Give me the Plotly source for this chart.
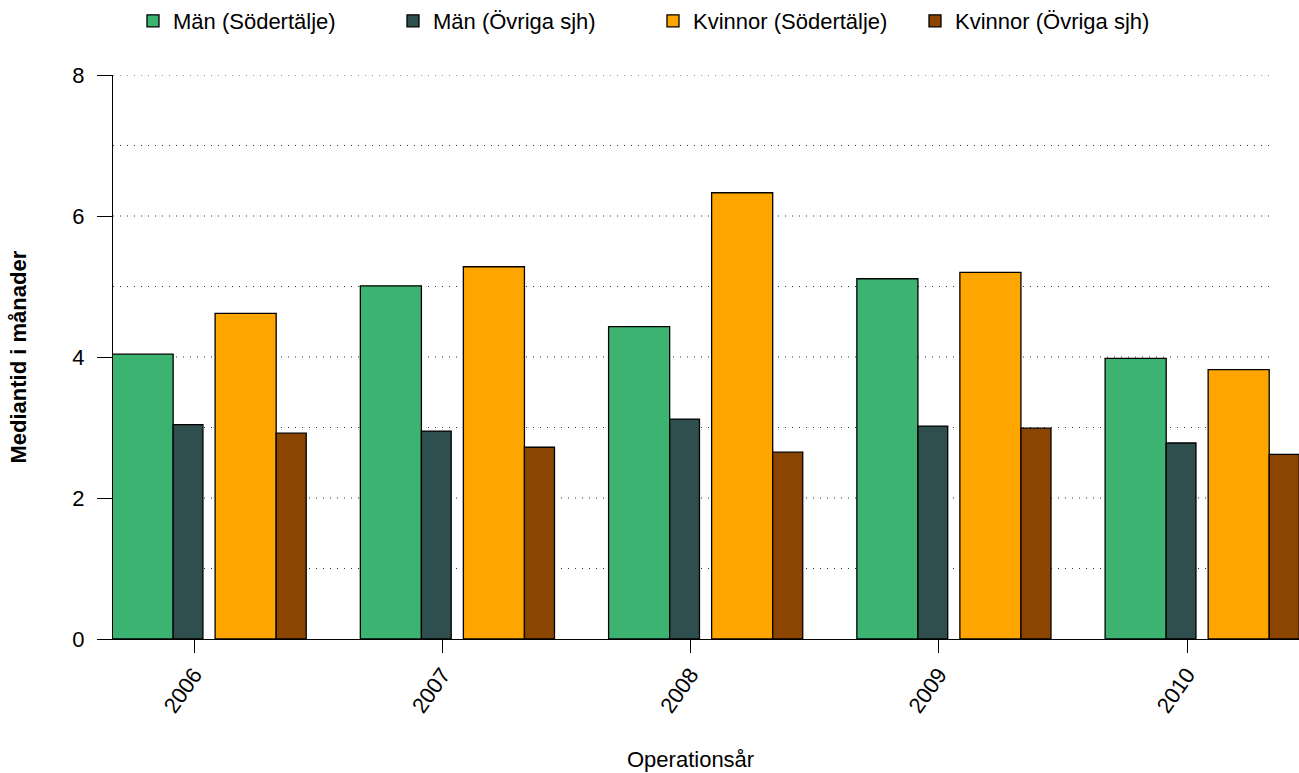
import plotly.graph_objects as go

years = ["2006", "2007", "2008", "2009", "2010"]
man_sodertalje = [4.04, 5.01, 4.43, 5.11, 3.98]
man_ovriga = [3.04, 2.95, 3.12, 3.02, 2.78]
kvinnor_sodertalje = [4.62, 5.28, 6.33, 5.20, 3.82]
kvinnor_ovriga = [2.92, 2.72, 2.65, 2.99, 2.62]

series = [
    ("Män (Södertälje)", man_sodertalje, "#3CB371", -0.330, 0.246, "legend"),
    ("Män (Övriga sjh)", man_ovriga, "#2F4F4F", -0.084, 0.120, "legend2"),
    ("Kvinnor (Södertälje)", kvinnor_sodertalje, "#FFA500", 0.085, 0.246, "legend3"),
    ("Kvinnor (Övriga sjh)", kvinnor_ovriga, "#8B4500", 0.331, 0.121, "legend4"),
]

FONT = "Liberation Sans, Arial, sans-serif"
FS = 22

fig = go.Figure()
for name, vals, color, off, w, lg in series:
    fig.add_trace(go.Bar(
        x=years, y=vals, name=name,
        offset=off, width=w,
        marker=dict(color=color, line=dict(color="black", width=1.3)),
        legend=lg,
    ))

W, H = 1299, 773
ML, MR, MT, MB = 113, 0, 74, 134
PW = W - ML - MR
PH = H - MT - MB

def px2paper_x(px):
    return (px - ML) / PW

def px2paper_y(py):
    return (H - MB - py) / PH

legend_common = dict(orientation="h", yanchor="middle", xanchor="left",
                     bgcolor="rgba(0,0,0,0)", font=dict(family=FONT, size=FS, color="black"))
legend_lefts = [133, 393, 653, 915]
legend_keys = ["legend", "legend2", "legend3", "legend4"]
legend_layout = {}
for k, lx in zip(legend_keys, legend_lefts):
    legend_layout[k] = dict(legend_common, x=px2paper_x(lx), y=px2paper_y(20))

# dotted horizontal grid lines at every integer level
grid_end = px2paper_x(1270)
shapes = []
for lvl in range(1, 9):
    shapes.append(dict(type="line", xref="paper", yref="y", x0=0, x1=grid_end,
                       y0=lvl, y1=lvl, layer="below",
                       line=dict(color="#333333", width=1, dash="1px,6px")))

fig.update_layout(
    width=W, height=H,
    margin=dict(l=ML, r=MR, t=MT, b=MB, pad=0),
    paper_bgcolor="white", plot_bgcolor="white",
    barmode="overlay",
    font=dict(family=FONT, size=FS, color="black"),
    showlegend=True,
    shapes=shapes,
    xaxis=dict(
        type="category", range=[-0.3263, 4.451],
        showgrid=False, zeroline=False,
        showline=True, linecolor="black", linewidth=1,
        ticks="outside", ticklen=13, tickcolor="black", tickwidth=1,
        tickangle=-55, tickfont=dict(family=FONT, size=FS, color="black"),
        ticklabelstandoff=0,
    ),
    yaxis=dict(
        range=[0, 8], tickvals=[0, 2, 4, 6, 8],
        showgrid=False, zeroline=False,
        showline=True, linecolor="black", linewidth=1,
        ticks="outside", ticklen=15, tickcolor="black", tickwidth=1,
        tickfont=dict(family=FONT, size=FS, color="black"),
        ticklabelstandoff=8,
    ),
    annotations=[
        dict(text="Operationsår", xref="paper", yref="paper",
             x=px2paper_x(690), y=px2paper_y(760), xanchor="center", yanchor="middle",
             showarrow=False, font=dict(family=FONT, size=FS, color="black")),
        dict(text="<b>Mediantid i månader</b>", xref="paper", yref="paper",
             x=px2paper_x(18), y=px2paper_y(357), xanchor="center", yanchor="middle",
             textangle=-90, showarrow=False, font=dict(family=FONT, size=FS, color="black")),
    ],
    **legend_layout,
)

fig.write_html(
    "out.html",
    config={"displayModeBar": False},
    post_script="document.body.style.margin='0';document.body.style.padding='0';",
)
